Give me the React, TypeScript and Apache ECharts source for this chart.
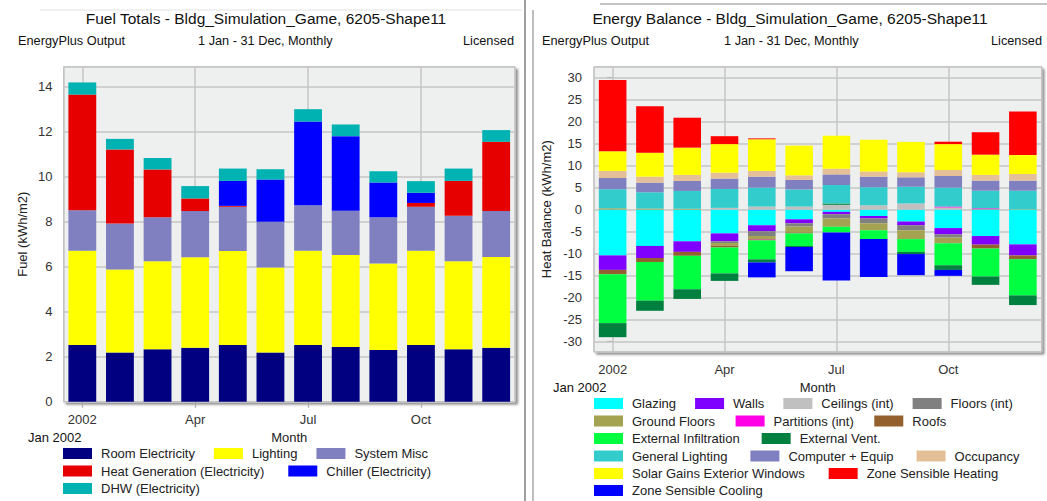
import React, { useEffect, useRef } from 'react';
import * as echarts from 'echarts';

// ---------- shared ----------
const monthLabels = ['2002', 'Feb', 'Mar', 'Apr', 'May', 'Jun', 'Jul', 'Aug', 'Sep', 'Oct', 'Nov', 'Dec'];

// ---------- Fuel Totals (kWh/m2) ----------
const roomElectricity = [2.52, 2.19, 2.33, 2.40, 2.52, 2.19, 2.52, 2.43, 2.30, 2.52, 2.33, 2.40];
const lighting = [4.19, 3.69, 3.92, 4.03, 4.18, 3.78, 4.19, 4.10, 3.85, 4.19, 3.92, 4.04];
const systemMisc = [1.81, 2.05, 1.95, 2.05, 1.97, 2.03, 2.03, 1.96, 2.05, 1.96, 2.02, 2.04];
const heatGeneration = [5.14, 3.29, 2.13, 0.56, 0.04, 0, 0, 0, 0, 0.17, 1.55, 3.08];
const chiller = [0, 0, 0, 0, 1.11, 1.88, 3.72, 3.32, 1.55, 0.45, 0, 0];
const dhw = [0.54, 0.47, 0.51, 0.55, 0.55, 0.46, 0.55, 0.52, 0.50, 0.52, 0.55, 0.52];

// ---------- Energy Balance (kWh/m2) ----------
const glazing = [-10.4, -8.25, -7.2, -5.4, -3.55, -2.2, -0.5, -1.45, -2.7, -4.2, -6.0, -7.9];
const walls = [-3.3, -2.75, -2.4, -1.8, -1.35, -0.9, -0.55, -0.55, -0.85, -1.4, -1.95, -2.5];
const ceilings = [0, 0, 0, 0.4, 0.7, 0.7, 1.1, 1.0, 1.4, 0.5, 0, 0];
const floors = [0, 0, 0, -0.4, -1.1, -0.75, -0.95, -1.1, -1.15, -0.75, 0, 0];
const groundFloors = [0.3, 0.25, 0.2, -0.6, -0.7, -1.35, -1.9, -1.6, -2.0, -1.15, 0.1, 0.1];
const partitions = [0, 0, 0, 0, -0.1, 0, 0, 0, 0, 0.2, 0.2, 0];
const roofs = [-1.0, -0.9, -0.9, -0.4, -0.2, -0.2, 0, 0, 0, -0.15, -0.9, -0.9];
const externalInfiltration = [-11.1, -8.8, -7.6, -5.9, -4.3, -2.85, -1.3, -2.0, -2.9, -5.0, -6.35, -8.2];
const externalVent = [-3.2, -2.3, -2.2, -1.7, -0.7, -0.25, 0.3, 0, -0.5, -1.05, -1.9, -2.2];
const generalLighting = [4.34, 3.7, 4.05, 4.3, 4.3, 3.9, 4.2, 4.1, 3.8, 4.3, 4.0, 4.2];
const computerEquip = [2.56, 2.19, 2.27, 2.35, 2.5, 2.15, 2.4, 2.4, 2.15, 2.65, 2.3, 2.3];
const occupancy = [1.6, 1.36, 1.38, 1.35, 1.3, 1.05, 1.3, 1.2, 1.15, 1.35, 1.3, 1.5];
const solarGains = [4.47, 5.45, 6.2, 6.5, 7.2, 6.75, 7.5, 7.2, 6.9, 5.9, 4.6, 4.3];
const zoneHeating = [16.2, 10.55, 6.8, 1.8, 0.2, 0, 0, 0, 0, 0.55, 5.1, 9.9];
const zoneCooling = [0, 0, 0, 0, -3.4, -5.5, -10.9, -8.6, -4.8, -1.35, 0, 0];

const fuelSeries: [string, number[], string][] = [
  ['Room Electricity', roomElectricity, '#000080'],
  ['Lighting', lighting, '#ffff00'],
  ['System Misc', systemMisc, '#8080c0'],
  ['Heat Generation (Electricity)', heatGeneration, '#e60000'],
  ['Chiller (Electricity)', chiller, '#0000ff'],
  ['DHW (Electricity)', dhw, '#00b2b2'],
];

const balanceSeries: [string, number[], string][] = [
  ['Glazing', glazing, '#00ffff'],
  ['Walls', walls, '#8000ff'],
  ['Ceilings (int)', ceilings, '#c0c0c0'],
  ['Floors (int)', floors, '#808080'],
  ['Ground Floors', groundFloors, '#a3a352'],
  ['Partitions (int)', partitions, '#ff00e6'],
  ['Roofs', roofs, '#93602e'],
  ['External Infiltration', externalInfiltration, '#00ff40'],
  ['External Vent.', externalVent, '#00803f'],
  ['General Lighting', generalLighting, '#33cccc'],
  ['Computer + Equip', computerEquip, '#8080c0'],
  ['Occupancy', occupancy, '#e5bf98'],
  ['Solar Gains Exterior Windows', solarGains, '#ffff00'],
  ['Zone Sensible Heating', zoneHeating, '#ff0000'],
  ['Zone Sensible Cooling', zoneCooling, '#0000ff'],
];

const leftLegendRows: [string[], number][] = [
  [['Room Electricity', 'Lighting', 'System Misc'], 19],
  [['Heat Generation (Electricity)', 'Chiller (Electricity)'], 24],
  [['DHW (Electricity)'], 20],
];
const rightLegendRows: [string[], number][] = [
  [['Glazing', 'Walls', 'Ceilings (int)', 'Floors (int)'], 19],
  [['Ground Floors', 'Partitions (int)', 'Roofs'], 20.5],
  [['External Infiltration', 'External Vent.'], 22],
  [['General Lighting', 'Computer + Equip', 'Occupancy'], 23],
  [['Solar Gains Exterior Windows', 'Zone Sensible Heating'], 24],
  [['Zone Sensible Cooling'], 20],
];

const FONT = 'Liberation Sans, Arial, Helvetica, sans-serif';
const GRID_LINE = '#c6c6c6';
const LABEL = '#333';

function catAxis(gridIndex: number, nameGap: number) {
  return {
    type: 'category',
    gridIndex,
    data: monthLabels,
    position: 'bottom',
    name: 'Month',
    nameLocation: 'middle',
    nameGap,
    nameTextStyle: { fontSize: 13, color: '#222', fontFamily: FONT },
    axisLine: { show: false },
    axisTick: { show: true, alignWithLabel: true, interval: 2, length: 6, lineStyle: { color: '#aaa', width: 1.2 } },
    axisLabel: { interval: 2, margin: 11, fontSize: 13, color: LABEL, fontFamily: FONT },
    splitLine: { show: false },
  };
}

function gridValueAxis(gridIndex: number) {
  return {
    type: 'value',
    gridIndex,
    position: 'top',
    min: -0.5,
    max: 11.5,
    splitNumber: 4,
    axisLine: { show: false },
    axisTick: { show: false },
    axisLabel: { show: false },
    splitLine: { show: true, lineStyle: { color: GRID_LINE, width: 1.5 } },
  };
}

function legendRow(names: string[], gap: number, left: number, centerY: number) {
  return {
    data: names,
    left,
    top: centerY - 8,
    orient: 'horizontal',
    padding: 0,
    itemGap: gap,
    itemWidth: 29,
    itemHeight: 11,
    icon: 'rect',
    selectedMode: false,
    textStyle: { fontSize: 13, color: '#222', fontFamily: FONT, padding: [0, 0, 0, 4] },
  };
}

function txt(text: string, x: number, y: number, size: number, align: string) {
  return {
    type: 'text',
    x,
    y,
    silent: true,
    style: { text, fontSize: size, fontFamily: FONT, fill: '#111', align, verticalAlign: 'middle' },
  };
}

const leftLegendY = [455, 472.5, 490];
const rightLegendY = [405, 422.5, 440, 457.5, 475, 492];

const option = {
  animation: false,
  backgroundColor: '#ffffff',
  textStyle: { fontFamily: FONT },
  grid: [
    {
      left: 63.5, right: 532, top: 66.7, bottom: 99.3,
      show: true, backgroundColor: '#eef0f0', borderColor: '#bdbdbd', borderWidth: 1,
      shadowColor: 'rgba(0,0,0,0.45)', shadowBlur: 2, shadowOffsetX: 2.5, shadowOffsetY: 2.5,
    },
    {
      left: 594, right: 5.5, top: 66.7, bottom: 149.3,
      show: true, backgroundColor: '#eef0f0', borderColor: '#bdbdbd', borderWidth: 1,
      shadowColor: 'rgba(0,0,0,0.45)', shadowBlur: 2, shadowOffsetX: 2.5, shadowOffsetY: 2.5,
    },
  ],
  xAxis: [catAxis(0, 29), gridValueAxis(0), catAxis(1, 28), gridValueAxis(1)],
  yAxis: [
    {
      type: 'value', gridIndex: 0, min: 0, max: 14.9, interval: 2,
      name: 'Fuel (kWh/m2)', nameLocation: 'middle', nameGap: 35, nameRotate: 90,
      nameTextStyle: { fontSize: 13, color: '#222', fontFamily: FONT },
      axisLine: { show: false },
      axisTick: { show: true, length: 6, lineStyle: { color: '#bbb', width: 1.2 } },
      axisLabel: { fontSize: 13, color: LABEL, margin: 11, showMaxLabel: false, fontFamily: FONT },
      splitLine: { show: true, lineStyle: { color: GRID_LINE, width: 1.5 } },
    },
    {
      type: 'value', gridIndex: 1, min: -32.3, max: 32.5, splitNumber: 13,
      name: 'Heat Balance (kWh/m2)', nameLocation: 'middle', nameGap: 41, nameRotate: 90,
      nameTextStyle: { fontSize: 13, color: '#222', fontFamily: FONT },
      axisLine: { show: false },
      axisTick: { show: true, length: 6, lineStyle: { color: '#bbb', width: 1.2 } },
      axisLabel: { fontSize: 13, color: LABEL, margin: 12, showMaxLabel: false, showMinLabel: false, fontFamily: FONT },
      splitLine: { show: true, lineStyle: { color: GRID_LINE, width: 1.5 } },
    },
  ],
  legend: [
    ...leftLegendRows.map(([names, gap], i) => legendRow(names, gap, 63, leftLegendY[i])),
    ...rightLegendRows.map(([names, gap], i) => legendRow(names, gap, 594, rightLegendY[i])),
  ],
  series: [
    ...fuelSeries.map(([name, data, color]) => ({
      name, type: 'bar', xAxisIndex: 0, yAxisIndex: 0, stack: 'fuel', data,
      barCategoryGap: '26%', itemStyle: { color }, silent: true,
    })),
    ...balanceSeries.map(([name, data, color]) => ({
      name, type: 'bar', xAxisIndex: 2, yAxisIndex: 1, stack: 'heat', stackStrategy: 'samesign', data,
      barCategoryGap: '26%', itemStyle: { color }, silent: true,
    })),
  ],
  graphic: [
    { type: 'line', silent: true, shape: { x1: 525, y1: 0, x2: 525, y2: 501 }, style: { stroke: '#a0a0a0', lineWidth: 2 } },
    { type: 'line', silent: true, shape: { x1: 533, y1: 10, x2: 533, y2: 501 }, style: { stroke: '#a8a8a8', lineWidth: 1.5 } },
    { type: 'line', silent: true, shape: { x1: 600, y1: 4, x2: 1047, y2: 4 }, style: { stroke: '#b0b0b0', lineWidth: 1.5 } },
    { type: 'line', silent: true, shape: { x1: 40, y1: 10, x2: 522, y2: 10 }, style: { stroke: '#e2e2e2', lineWidth: 1 } },
    txt('Fuel Totals - Bldg_Simulation_Game, 6205-Shape11', 266, 18.5, 15.5, 'center'),
    txt('EnergyPlus Output', 18, 40, 12.75, 'left'),
    txt('1 Jan - 31 Dec, Monthly', 198, 40, 12.75, 'left'),
    txt('Licensed', 514, 40, 12.75, 'right'),
    txt('Energy Balance - Bldg_Simulation_Game, 6205-Shape11', 790, 18.5, 15.5, 'center'),
    txt('EnergyPlus Output', 542, 40, 12.75, 'left'),
    txt('1 Jan - 31 Dec, Monthly', 724, 40, 12.75, 'left'),
    txt('Licensed', 1042, 40, 12.75, 'right'),
    txt('Jan 2002', 28, 437, 13, 'left'),
    txt('Jan 2002', 553, 387, 13, 'left'),
  ],
};

export default function App() {
  const ref = useRef<HTMLDivElement>(null);
  useEffect(() => {
    if (!ref.current) return;
    const chart = echarts.init(ref.current, null, { renderer: 'svg' });
    chart.setOption(option as any);
    return () => chart.dispose();
  }, []);
  return (
    <div
      ref={ref}
      style={{ position: 'absolute', left: 0, top: 0, width: 1047, height: 501, background: '#fff' }}
    />
  );
}
